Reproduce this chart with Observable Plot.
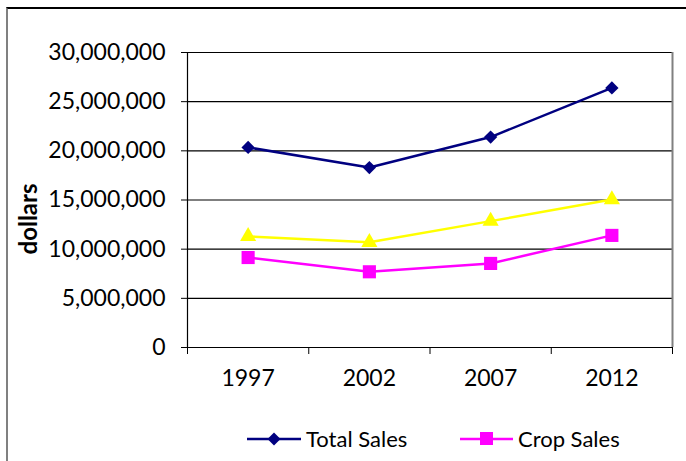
<!DOCTYPE html>
<html>
<head>
<meta charset="utf-8">
<script src="https://cdn.jsdelivr.net/npm/d3@7"></script>
<script src="https://cdn.jsdelivr.net/npm/@observablehq/plot@0.6"></script>
<style>
  html, body { margin: 0; padding: 0; background: #fff; }
  #wrap { position: relative; width: 686px; height: 461px; overflow: hidden; font-family: Lato, "Open Sans", sans-serif; }
  #border { position: absolute; left: 6px; top: 7px; right: -4px; bottom: -4px; border-top: 2px solid #000; border-left: 2px solid #808080; }
  #chart { position: absolute; left: 0; top: 0; }
  #ylabel { position: absolute; left: 27px; top: 219px; transform: translate(-50%, -50%) rotate(-90deg); font-weight: bold; font-size: 24px; white-space: nowrap; color: #000; }
  .leg { position: absolute; top: 425px; display: flex; align-items: center; font-size: 22px; color: #000; }
  .leg svg { margin-right: 5px; }
</style>
</head>
<body>
<div id="wrap">
  <div id="border"></div>
  <div id="chart"></div>
  <div id="ylabel">dollars</div>
  <div class="leg" style="left:247px"><svg width="54" height="22"><line x1="0" x2="54" y1="11" y2="11" stroke="#000080" stroke-width="2.5"/><path d="M27,4.5L33.5,11L27,17.5L20.5,11Z" fill="#000080"/></svg>Total Sales</div>
  <div class="leg" style="left:460px"><svg width="53" height="22"><line x1="0" x2="53" y1="11" y2="11" stroke="#FF00FF" stroke-width="2.5"/><rect x="20" y="4" width="13" height="13" fill="#FF00FF"/></svg>Crop Sales</div>
</div>
<script>
const years = [1997, 2002, 2007, 2012];
const totalSales = [20350000, 18300000, 21400000, 26400000];
const otherSales = [11300000, 10700000, 12850000, 15050000];
const cropSales = [9150000, 7700000, 8550000, 11400000];
const yTicks = [0, 5000000, 10000000, 15000000, 20000000, 25000000, 30000000];
const xBounds = [1994.5, 1999.5, 2004.5, 2009.5, 2014.5];

const rows = years.map((year, i) => ({year, total: totalSales[i], other: otherSales[i], crop: cropSales[i]}));

const chart = Plot.plot({
  width: 686,
  height: 400,
  marginLeft: 187,
  marginRight: 14,
  marginTop: 52,
  marginBottom: 53,
  style: {fontFamily: "Lato, 'Open Sans', sans-serif", fontSize: "23px", color: "#000", background: "transparent", overflow: "visible"},
  x: {type: "linear", domain: [xBounds[0], xBounds[xBounds.length - 1]]},
  y: {domain: [0, 30000000]},
  marks: [
    Plot.ruleY(yTicks, {stroke: "#000", strokeWidth: 1.2}),
    Plot.ruleX([xBounds[0]], {stroke: "#000", strokeWidth: 1.2}),
    Plot.ruleX([xBounds[xBounds.length - 1]], {stroke: "#808080", strokeWidth: 2}),
    Plot.axisY({ticks: yTicks, tickSize: 6, tickPadding: 16, tickFormat: d3.format(","), label: null, stroke: "#000"}),
    Plot.axisX({ticks: xBounds, tickSize: 7, tickFormat: () => "", label: null, stroke: "#000"}),
    Plot.axisX({ticks: years, tickSize: 0, tickPadding: 22, tickFormat: d => String(d), label: null}),
    Plot.line(rows, {x: "year", y: "total", stroke: "#000080", strokeWidth: 2.5}),
    Plot.line(rows, {x: "year", y: "other", stroke: "#FFFF00", strokeWidth: 2.5}),
    Plot.line(rows, {x: "year", y: "crop", stroke: "#FF00FF", strokeWidth: 2.5}),
    Plot.dot(rows, {x: "year", y: "total", symbol: "diamond2", r: 6, fill: "#000080", stroke: "none"}),
    Plot.dot(rows, {x: "year", y: "other", symbol: "triangle", r: 6, fill: "#FFFF00", stroke: "none"}),
    Plot.dot(rows, {x: "year", y: "crop", symbol: "square", r: 7.4, fill: "#FF00FF", stroke: "none"})
  ]
});
document.getElementById("chart").appendChild(chart);
</script>
</body>
</html>
